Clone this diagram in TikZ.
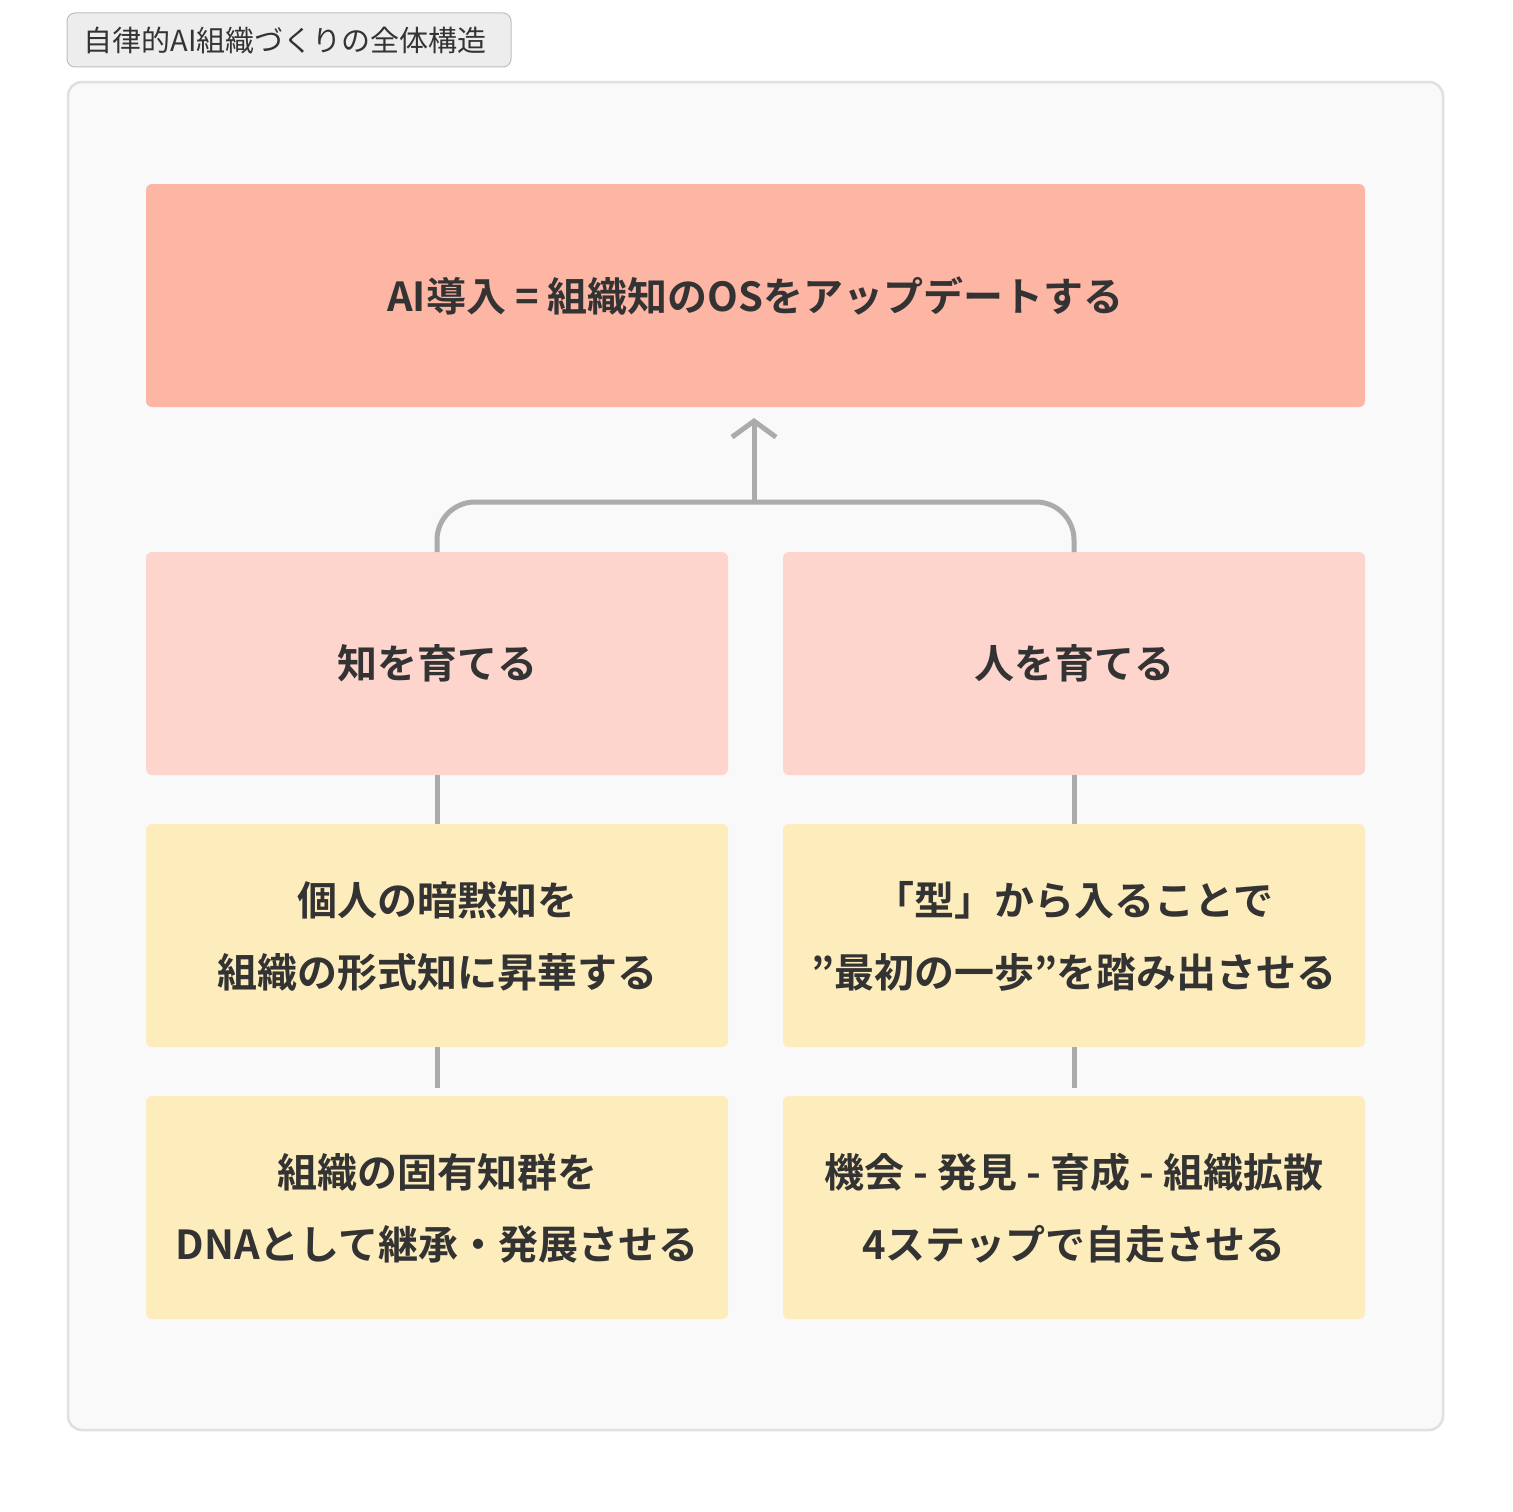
\documentclass[tikz,border=0pt]{standalone}
\usepackage{fontspec}
\setmainfont{Noto Sans CJK JP}
\newfontfamily\jpb{Noto Sans CJK JP Bold}
\usetikzlibrary{arrows.meta}
\definecolor{topc}{HTML}{FDB5A4}
\definecolor{midc}{HTML}{FED5CD}
\definecolor{lowc}{HTML}{FEEDBC}
\definecolor{linec}{HTML}{ABABAB}
\definecolor{txt}{HTML}{333333}
\tikzset{
 box/.style={rounded corners=6pt,inner sep=0pt,text=txt,align=center,font=\jpb\fontsize{40}{72}\selectfont},
 conn/.style={draw=linec,line width=5pt}
}
\begin{document}
\begin{tikzpicture}[x=1pt,y=-1pt]
\useasboundingbox (0,0) rectangle (1512,1512);
\fill[white] (0,0) rectangle (1512,1512);
\draw[fill=white!93!black,draw=black!25,rounded corners=8pt,line width=1pt] (67,13) rectangle (511,67);
\node[text=txt,font=\fontsize{29}{32}\selectfont,anchor=west] (title) at (80,41) {自律的AI組織づくりの全体構造};
\draw[fill=black!2.5,draw=black!12,rounded corners=14pt,line width=2.5pt] (68,82) rectangle (1443,1430);
\fill[topc,rounded corners=6pt] (146,184) rectangle (1365,407);
\node[box] (top) at (755.5,296) {AI導入 = 組織知のOSをアップデートする};
\fill[midc,rounded corners=6pt] (146,552) rectangle (728,775);
\fill[midc,rounded corners=6pt] (783,552) rectangle (1365,775);
\node[box] (m1) at (437,663) {知を育てる};
\node[box] (m2) at (1074,663) {人を育てる};
\foreach \y in {824,1096}{
 \fill[lowc,rounded corners=6pt] (146,\y) rectangle (728,\y+223);
 \fill[lowc,rounded corners=6pt] (783,\y) rectangle (1365,\y+223);}
\node[box] (a1) at (437,936) {個人の暗黙知を\\組織の形式知に昇華する};
\node[box] (b1) at (1074,936) {「型」から入ることで\\”最初の一歩”を踏み出させる};
\node[box] (a2) at (437,1208) {組織の固有知群を\\DNAとして継承・発展させる};
\node[box] (b2) at (1074,1208) {機会 - 発見 - 育成 - 組織拡散\\4ステップで自走させる};
\coordinate (j) at (754,502);
\coordinate (ah) at (754,418);
\draw[conn,rounded corners=38pt] (437,552) |- (1074,502) -- (1074,552);
\draw[conn,-{Straight Barb[length=16pt,width=44pt,line width=5pt]}] (j) -- (ah);
\draw[conn] (437,775) -- (437,824);
\draw[conn] (1074,775) -- (1074,824);
\draw[conn] (437,1047) -- (437,1088);
\draw[conn] (1074,1047) -- (1074,1088);
\end{tikzpicture}
\end{document}
